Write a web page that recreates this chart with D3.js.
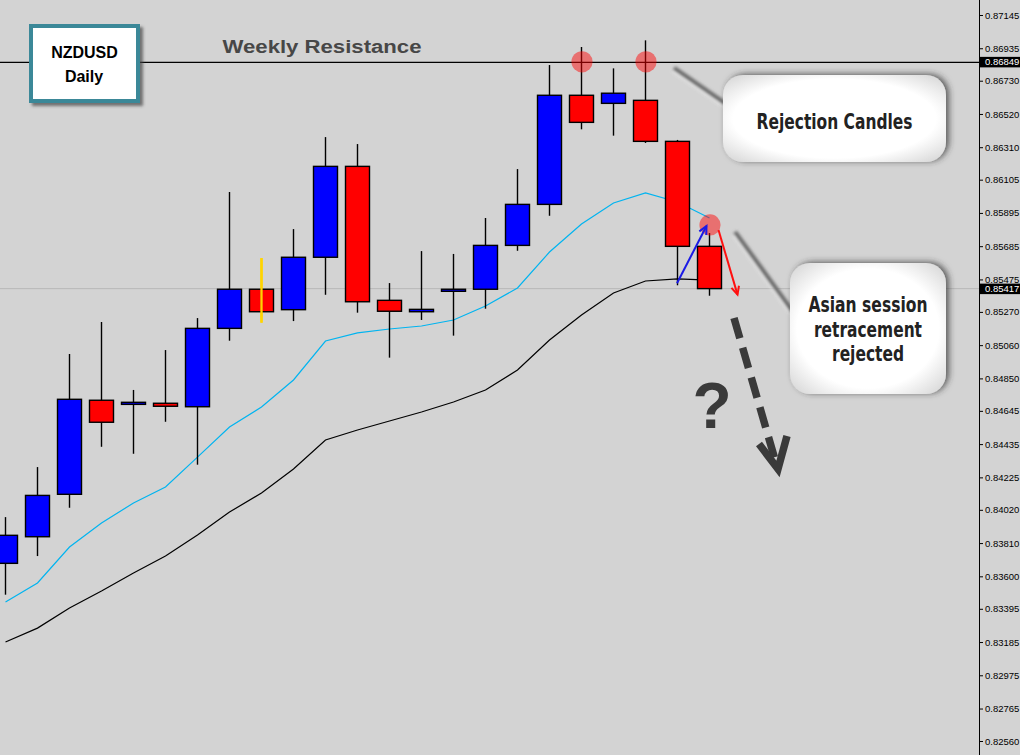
<!DOCTYPE html>
<html><head><meta charset="utf-8">
<script src="https://cdn.jsdelivr.net/npm/d3@7/dist/d3.min.js"></script>
<style>html,body{margin:0;padding:0;background:#d3d3d3;overflow:hidden}</style>
</head><body><svg id="c" width="1020" height="755"></svg>
<script>
// ---- data (NZDUSD daily) ----
const bars  = d3.range(23);
const open  = [0.83682,0.83850,0.84118,0.84712,0.84686,0.84693,0.84671,0.85166,0.85413,0.85284,0.85615,0.86189,0.85343,0.85271,0.85400,0.85413,0.85690,0.85949,0.86638,0.86587,0.86606,0.86347,0.85684];
const high  = [0.83974,0.84290,0.85004,0.85206,0.84777,0.85029,0.85231,0.86027,0.85610,0.85793,0.86374,0.86330,0.85452,0.85654,0.85636,0.85863,0.86172,0.86829,0.86943,0.86808,0.86985,0.86356,0.85768];
const low   = [0.83484,0.83728,0.84033,0.84418,0.84374,0.84576,0.84305,0.85088,0.85202,0.85212,0.85378,0.85265,0.84981,0.85219,0.85120,0.85290,0.85656,0.85877,0.86423,0.86383,0.86337,0.85438,0.85372];
const close = [0.83859,0.84111,0.84718,0.84573,0.84699,0.84674,0.85166,0.85413,0.85271,0.85615,0.86189,0.85334,0.85274,0.85286,0.85413,0.85690,0.85949,0.86638,0.86467,0.86651,0.86347,0.85684,0.85417];
const maFast = [0.83438,0.83558,0.83785,0.83937,0.84063,0.84164,0.84353,0.84543,0.84669,0.84840,0.85086,0.85137,0.85162,0.85181,0.85219,0.85307,0.85421,0.85648,0.85825,0.85958,0.86021,0.85964,0.85863];
const maSlow = [0.83185,0.83273,0.83400,0.83507,0.83621,0.83728,0.83861,0.84006,0.84126,0.84278,0.84461,0.84524,0.84581,0.84638,0.84701,0.84777,0.84903,0.85092,0.85250,0.85389,0.85465,0.85478,0.85471];
const tickValues = [0.87145,0.86935,0.86730,0.86520,0.86310,0.86105,0.85895,0.85685,0.85475,0.85270,0.85060,0.84850,0.84645,0.84435,0.84225,0.84020,0.83810,0.83600,0.83395,0.83185,0.82975,0.82765,0.82560];
const resistance = 0.86849;
const lastPrice = 0.85417;
const retestPrice = 0.85819;   // Asian-session retest marker
const highlightBar = 8;        // candle with the yellow wick

// ---- layout ----
const W = 1020, H = 755, axisX = 979;
const svg = d3.select('#c');
const x = d3.scaleLinear().domain([0, 22]).range([5.5, 709.5]);
const y = d3.scaleLinear().domain([0.82560, 0.87145]).range([741, 15]);
const bodyW = 24;

const defs = svg.append('defs');
defs.append('clipPath').attr('id','plot').append('rect').attr('x',0).attr('y',0).attr('width',axisX).attr('height',H);
const blur = defs.append('filter').attr('id','blur').attr('x','-20%').attr('y','-20%').attr('width','140%').attr('height','140%');
blur.append('feGaussianBlur').attr('stdDeviation',1.6);
const sh = defs.append('filter').attr('id','shadow').attr('x','-20%').attr('y','-20%').attr('width','140%').attr('height','150%');
sh.append('feDropShadow').attr('dx',3).attr('dy',-1).attr('stdDeviation',3).attr('flood-color','#333').attr('flood-opacity',0.75);
const sh2 = defs.append('filter').attr('id','shadow2').attr('x','-20%').attr('y','-20%').attr('width','150%').attr('height','150%');
sh2.append('feDropShadow').attr('dx',3).attr('dy',3).attr('stdDeviation',1.5).attr('flood-color','#444').attr('flood-opacity',0.7);
const rg = defs.append('radialGradient').attr('id','bub').attr('cx','50%').attr('cy','50%').attr('r','65%');
rg.append('stop').attr('offset','0%').attr('stop-color','#ffffff');
rg.append('stop').attr('offset','70%').attr('stop-color','#ffffff');
rg.append('stop').attr('offset','100%').attr('stop-color','#dcdcdc');

svg.append('rect').attr('width',W).attr('height',H).attr('fill','#d3d3d3');

const plot = svg.append('g').attr('clip-path','url(#plot)');

// last price line
plot.append('line').attr('x1',0).attr('x2',axisX).attr('y1',y(lastPrice)).attr('y2',y(lastPrice))
  .attr('stroke','#b9b9b9').attr('stroke-width',1);
// resistance line
plot.append('line').attr('x1',0).attr('x2',axisX).attr('y1',y(resistance)+0.5).attr('y2',y(resistance)+0.5)
  .attr('stroke','#000').attr('stroke-width',1.2);

// moving averages
const lineGen = arr => d3.line().x((d,i)=>x(i)).y(d=>y(d))(arr);
plot.append('path').attr('d', lineGen(maFast)).attr('fill','none').attr('stroke','#00b4f0').attr('stroke-width',1.2);
plot.append('path').attr('d', lineGen(maSlow)).attr('fill','none').attr('stroke','#000').attr('stroke-width',1.2);

// candles
const cg = plot.append('g');
bars.forEach(i => {
  const up = close[i] >= open[i];
  const top = y(Math.max(open[i], close[i])), bot = y(Math.min(open[i], close[i]));
  cg.append('line').attr('x1',x(i)).attr('x2',x(i)).attr('y1',y(high[i])).attr('y2',y(low[i]))
    .attr('stroke', i===highlightBar ? '#ffd400' : '#000').attr('stroke-width', i===highlightBar ? 2.3 : 1.4);
  cg.append('rect').attr('x',x(i)-bodyW/2).attr('y',top).attr('width',bodyW).attr('height',Math.max(bot-top,1.5))
    .attr('fill', up ? '#0000ff' : '#ff0000').attr('stroke','#000').attr('stroke-width',1.4);
  if (i===highlightBar) {
    cg.append('line').attr('x1',x(i)).attr('x2',x(i)).attr('y1',y(high[i])).attr('y2',y(low[i]))
      .attr('stroke','#ffd400').attr('stroke-width',2.3);
  }
});

// red circles
const circ = [[18, resistance], [20, resistance], [22, retestPrice]];
circ.forEach(([i,v]) => {
  plot.append('circle').attr('cx', x(i)+0.5).attr('cy', y(v)).attr('r',10.6).attr('fill','#ff0000').attr('fill-opacity',0.47);
});

// blue and red arrows
function arrow(g, x1,y1,x2,y2,color){
  g.append('line').attr('x1',x1).attr('y1',y1).attr('x2',x2).attr('y2',y2).attr('stroke',color).attr('stroke-width',2);
  const a = Math.atan2(y2-y1,x2-x1), L=9, s=0.45;
  const p = [[x2 - L*Math.cos(a-s), y2 - L*Math.sin(a-s)],[x2,y2],[x2 - L*Math.cos(a+s), y2 - L*Math.sin(a+s)]];
  g.append('polyline').attr('points',p.map(d=>d.join(',')).join(' ')).attr('fill','none').attr('stroke',color).attr('stroke-width',2);
}
arrow(plot, x(21)-0.5, y(low[21])-2, x(22)-3, y(retestPrice)+1, '#1a1ae6');
arrow(plot, x(22)+9, y(retestPrice)+5, x(22)+28, y(lastPrice)+6, '#ff1010');

// dashed projection arrow
const da = plot.append('g').attr('stroke','#3a3a3a').attr('stroke-width',7.5).attr('fill','none');
da.append('line').attr('x1',734).attr('y1',318).attr('x2',776).attr('y2',463).attr('stroke-dasharray','21 10');
da.append('polyline').attr('points','759,444 778,469 787,436');

// question mark
plot.append('text').attr('x',712).attr('y',428).attr('text-anchor','middle')
  .attr('font-family','Liberation Sans, Arial, sans-serif').attr('font-weight','bold').attr('font-size',64)
  .attr('fill','#3a3a3a').text('?');

// bubble pointers
function pointer(x1,y1,x2,y2){
  plot.append('line').attr('x1',x1).attr('y1',y1).attr('x2',x2).attr('y2',y2)
    .attr('stroke','#6a6a6a').attr('stroke-width',4.5).attr('filter','url(#blur)');
  plot.append('line').attr('x1',x1-2).attr('y1',y1+3).attr('x2',x2-2).attr('y2',y2+3)
    .attr('stroke','#f0f0f0').attr('stroke-width',2).attr('filter','url(#blur)').attr('opacity',0.8);
}
pointer(674, 68, 726, 104);
pointer(735, 232, 793, 312);

// bubbles
const fontImpact = "Impact, 'Liberation Sans Narrow', 'DejaVu Sans Condensed', 'Arial Narrow', sans-serif";
function bubble(bx,by,bw,bh,lines,baselines,widths){
  plot.append('rect').attr('x',bx).attr('y',by).attr('width',bw).attr('height',bh).attr('rx',20).attr('ry',20)
    .attr('fill','url(#bub)').attr('filter','url(#shadow)');
  lines.forEach((t,k)=>{
    plot.append('text').attr('x',bx+bw/2).attr('y',baselines[k]).attr('text-anchor','middle')
      .attr('font-family',fontImpact).attr('font-weight','bold').attr('font-size',22)
      .attr('fill','#222').attr('textLength',widths[k]).attr('lengthAdjust','spacingAndGlyphs').text(t);
  });
}
bubble(723, 75, 223, 87, ['Rejection Candles'], [129], [156]);
bubble(790, 263, 156, 131, ['Asian session','retracement','rejected'], [312, 337, 361], [119, 108, 72]);

// title box
svg.append('rect').attr('x',31).attr('y',26).attr('width',107).attr('height',75)
  .attr('fill','#fff').attr('stroke','#3a8898').attr('stroke-width',4).attr('filter','url(#shadow2)');
svg.append('text').attr('x',84.5).attr('y',58).attr('text-anchor','middle').attr('font-family','Liberation Sans, Arial, sans-serif')
  .attr('font-weight','bold').attr('font-size',16).attr('fill','#000').text('NZDUSD');
svg.append('text').attr('x',84).attr('y',81.5).attr('text-anchor','middle').attr('font-family','Liberation Sans, Arial, sans-serif')
  .attr('font-weight','bold').attr('font-size',16).attr('fill','#000').text('Daily');

// Weekly resistance label
svg.append('text').attr('x',222.5).attr('y',53).attr('font-family','Liberation Sans, Arial, sans-serif')
  .attr('font-weight','bold').attr('font-size',17.5).attr('fill','#474747')
  .attr('textLength',199).attr('lengthAdjust','spacingAndGlyphs').text('Weekly Resistance');

// ---- right price axis ----
svg.append('line').attr('x1',axisX+0.5).attr('x2',axisX+0.5).attr('y1',0).attr('y2',H).attr('stroke','#000').attr('stroke-width',1);
const ax = svg.append('g').attr('transform',`translate(${axisX},0)`)
  .call(d3.axisRight(y).tickValues(tickValues).tickSize(4).tickPadding(2).tickFormat(d3.format('.5f')));
ax.select('.domain').remove();
ax.selectAll('line').attr('stroke','#000');
ax.selectAll('text').attr('font-family','Liberation Sans, Arial, sans-serif').attr('font-size',9.5).attr('fill','#000');

[resistance, lastPrice].forEach(v => {
  svg.append('rect').attr('x',axisX+1).attr('y',y(v)-5).attr('width',W-axisX-1).attr('height',10.5).attr('fill','#000');
  svg.append('text').attr('x',985).attr('y',y(v)+0.3).attr('dy','0.35em').attr('font-family','Liberation Sans, Arial, sans-serif')
    .attr('font-size',9.5).attr('fill','#fff').text(d3.format('.5f')(v));
});
</script></body></html>
